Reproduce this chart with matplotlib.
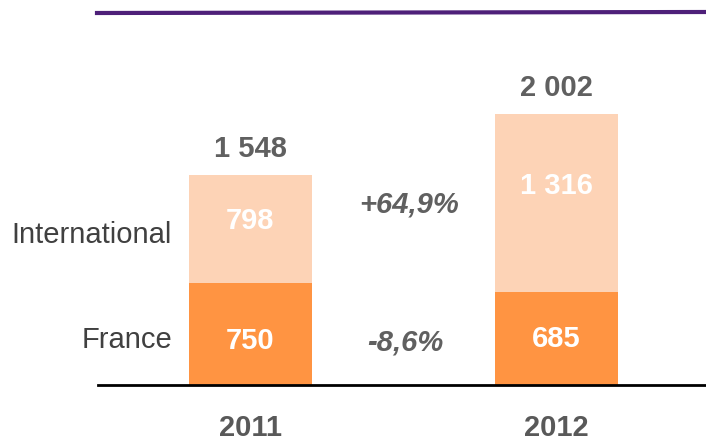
import matplotlib.pyplot as plt
from matplotlib.transforms import blended_transform_factory
import numpy as np

plt.rcParams['font.family'] = ['Liberation Sans', 'DejaVu Sans']

years = ["2011", "2012"]
france = [750, 685]
international = [798, 1316]
totals = ["1 548", "2 002"]
france_labels = ["750", "685"]
intl_labels = ["798", "1 316"]
growth_intl = "+64,9%"
growth_france = "-8,6%"

C_FRANCE = "#FF9442"
C_INTL = "#FDD3B6"
C_TEXT = "#606060"
FS = 21

fig = plt.figure(figsize=(7.06, 4.42), dpi=100)
W, H = 706, 442
ax = fig.add_axes([98 / W, (H - 385) / H, (706 - 98) / W, 385 / H])

x = np.arange(len(years))
width = 0.402
ax.bar(x, france, width, color=C_FRANCE, zorder=2)
ax.bar(x, international, width, bottom=france, color=C_INTL, zorder=2)

ax.set_xlim(-0.498, 1.489)
ax.set_ylim(0, 385 / 0.1355)

# vertical nudges (points) for the labels inside the bars
intl_dy = [6, 12]
france_dy = [-5, 0]

for i in range(len(years)):
    top = france[i] + international[i]
    ax.annotate(totals[i], (x[i], top), xytext=(0, 13), textcoords="offset points",
                ha="center", va="baseline", fontsize=FS, fontweight="bold", color=C_TEXT)
    ax.annotate(france_labels[i], (x[i], france[i] / 2), xytext=(0, france_dy[i]),
                textcoords="offset points", ha="center", va="center",
                fontsize=FS, fontweight="bold", color="white")
    ax.annotate(intl_labels[i], (x[i], france[i] + international[i] / 2),
                xytext=(0, intl_dy[i]), textcoords="offset points", ha="center",
                va="center", fontsize=FS, fontweight="bold", color="white")
    ax.text(x[i], (H - 428 - 57) / 385, years[i], transform=ax.get_xaxis_transform(),
            ha="center", va="center", fontsize=FS, fontweight="bold", color="#595959")

ax.text(0.52, 1330, growth_intl, ha="center", va="center", fontsize=FS,
        fontweight="bold", style="italic", color=C_TEXT)
ax.text(0.505, 312, growth_france, ha="center", va="center", fontsize=FS,
        fontweight="bold", style="italic", color=C_TEXT)

# row labels on the left
lab_tr = blended_transform_factory(fig.transFigure, ax.transData)
ax.text(172 / W, france[0] + international[0] / 2 - 40, "International", transform=lab_tr,
        ha="right", va="center", fontsize=FS, color="#404040")
ax.text(172 / W, france[0] / 2 - 45, "France", transform=lab_tr,
        ha="right", va="center", fontsize=FS, color="#404040")

for s in ["top", "right", "left"]:
    ax.spines[s].set_visible(False)
ax.spines["bottom"].set_linewidth(2)
ax.spines["bottom"].set_color("black")
ax.set_xticks([])
ax.set_yticks([])

# purple rule at the top
fig.add_artist(plt.Line2D([97 / W, 1.0], [(H - 13) / H, (H - 12) / H],
                          transform=fig.transFigure, color="#4E2079", linewidth=3))

fig.savefig("out.png", dpi=100)
